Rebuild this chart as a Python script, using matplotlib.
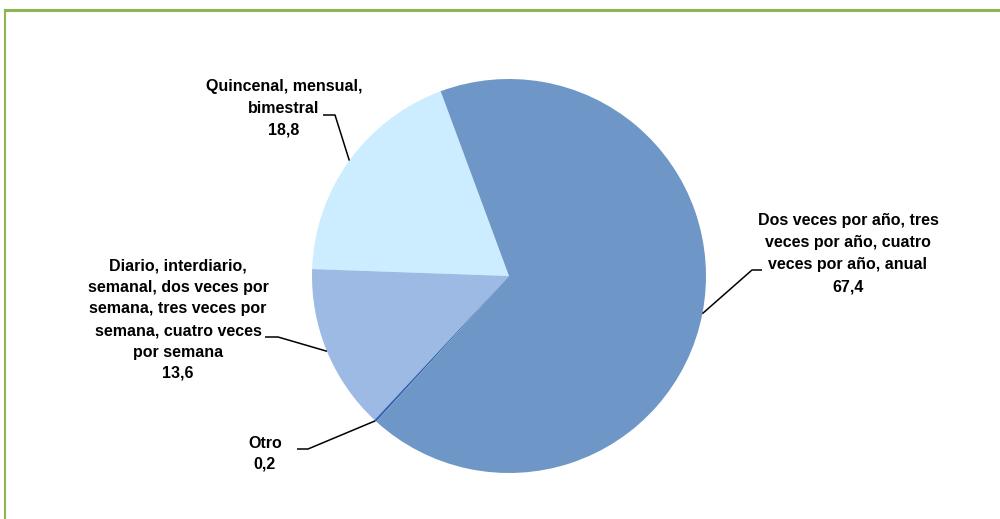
import matplotlib
matplotlib.use("Agg")
import matplotlib.pyplot as plt
from matplotlib.lines import Line2D
from matplotlib import font_manager
import numpy as np

names = {f.name for f in font_manager.fontManager.ttflist}
narrow = 'Liberation Sans Narrow' in names
plt.rcParams['font.family'] = (['Liberation Sans Narrow'] if narrow else []) + ['Liberation Sans', 'DejaVu Sans']

# Data (counter-clockwise order starting at the top-left boundary)
categories = [
    "Quincenal, mensual,\nbimestral",
    "Diario, interdiario,\nsemanal, dos veces por\nsemana, tres veces por\nsemana, cuatro veces\npor semana",
    "Otro",
    "Dos veces por año, tres\nveces por año, cuatro\nveces por año, anual",
]
values = [18.8, 13.6, 0.2, 67.4]
value_labels = ["18,8", "13,6", "0,2", "67,4"]
colors = ["#CCECFF", "#9DBAE5", "#3565B0", "#6E97C8"]

W, H = 1000, 519
fig = plt.figure(figsize=(W / 100, H / 100), dpi=100)
ax = fig.add_axes([0, 0, 1, 1])

cx, cy, r = 509, H - 276, 197
start = 110.3
wedges, _ = ax.pie(values, colors=colors, startangle=start, counterclock=True,
                   center=(cx, cy), radius=r, frame=True,
                   wedgeprops=dict(linewidth=0))
ax.set_xlim(0, W)
ax.set_ylim(0, H)
ax.set_aspect('equal')
ax.axis('off')

fs = 12.5 if narrow else 11.5
# label layout: text center x, first-line center y, line step (pixels), elbow (pixels)
layouts = [
    dict(tx=284, ty=87, step=21.5, e1=(323, 115), e2=(335, 115)),
    dict(tx=178, ty=266, step=21.5, e1=(265, 337), e2=(278, 337)),
    dict(tx=265, ty=443, step=21.0, e1=(297, 449), e2=(308, 449)),
    dict(tx=848, ty=221, step=22.0, e1=(752, 270), e2=(762, 270)),
]

for w, cat, vl, lay in zip(wedges, categories, value_labels, layouts):
    mid = np.deg2rad((w.theta1 + w.theta2) / 2)
    ax_x = cx + r * np.cos(mid)
    ax_y = cy + r * np.sin(mid)
    lines = cat.split("\n") + [vl]
    for i, ln in enumerate(lines):
        ax.text(lay['tx'], H - (lay['ty'] + i * lay['step']), ln, ha='center',
                va='center', fontsize=fs, fontweight='bold', color='black')
    e1, e2 = lay['e1'], lay['e2']
    if abs(e2[0] - ax_x) < abs(e1[0] - ax_x):
        xs = [e1[0], e2[0], ax_x]
        ys = [H - e1[1], H - e2[1], ax_y]
    else:
        xs = [e2[0], e1[0], ax_x]
        ys = [H - e2[1], H - e1[1], ax_y]
    ax.plot(xs, ys, color='black', lw=1.1, solid_capstyle='butt')

# green frame (top and left)
green = '#8DB550'
fig.add_artist(Line2D([5 / W, 1], [1 - 10 / H, 1 - 10 / H], color=green, lw=2.2,
                      transform=fig.transFigure))
fig.add_artist(Line2D([5 / W, 5 / W], [0, 1 - 10 / H], color=green, lw=1.5,
                      transform=fig.transFigure))

fig.savefig("out.png", dpi=100)
